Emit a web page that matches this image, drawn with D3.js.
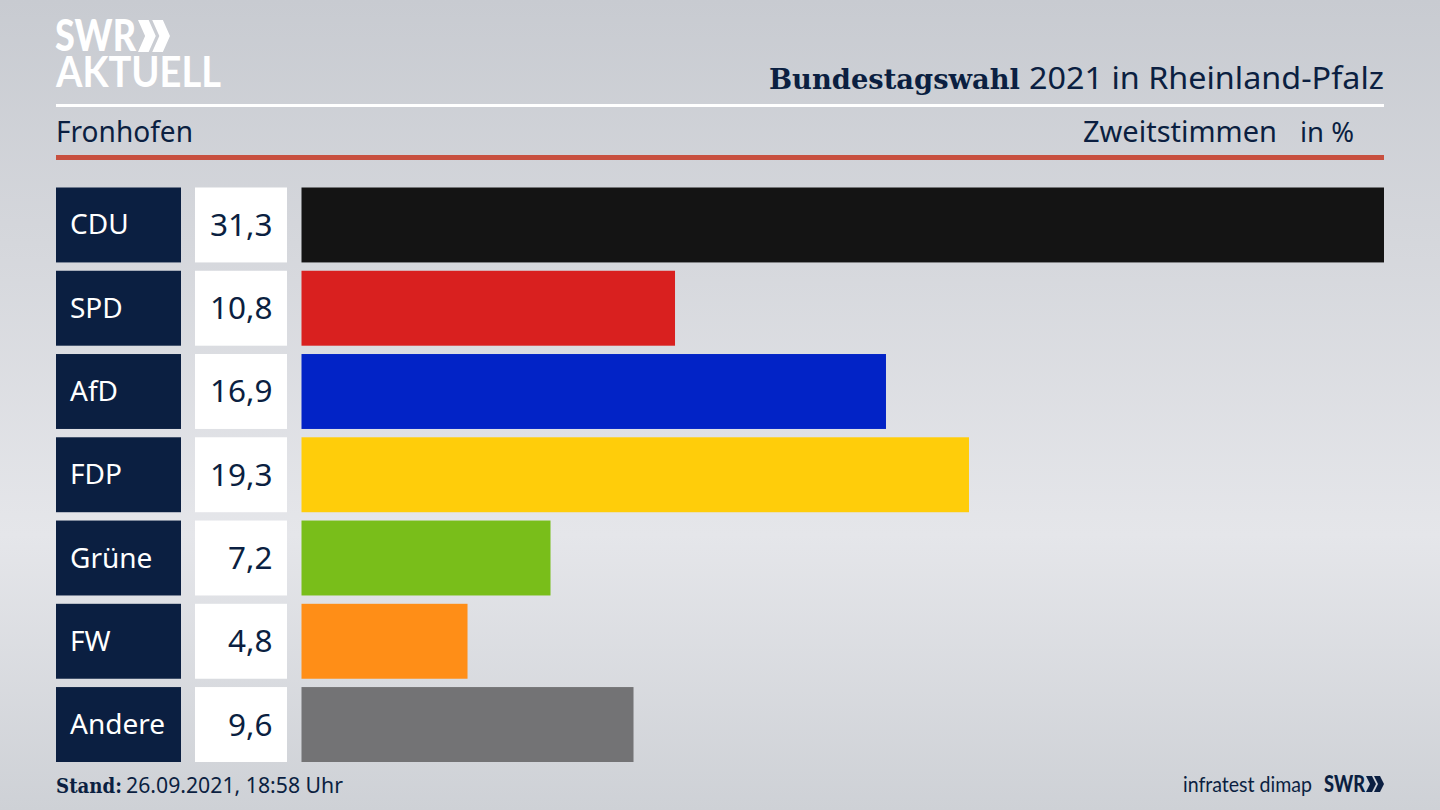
<!DOCTYPE html>
<html>
<head>
<meta charset="utf-8">
<script src="https://cdn.jsdelivr.net/npm/d3@7"></script>
<style>
html,body { margin:0; padding:0; background:#d5d7dc; overflow:hidden; }
svg { display:block; }
</style>
</head>
<body>
<div id="container"></div>
<script>
const parties = ["CDU","SPD","AfD","FDP","Grüne","FW","Andere"];
const values = [31.3,10.8,16.9,19.3,7.2,4.8,9.6];
const barColors = ["#141414","#d9201f","#0223c6","#ffcd0a","#79be1a","#ff8e17","#737375"];

const navy = "#0b1f41";
const width = 1440, height = 810;
const fmt = (v)=> v.toFixed(1).replace(".",",");

const svg = d3.select("#container").append("svg")
    .attr("width",width)
    .attr("height",height)
    .attr("font-family","'Noto Sans',sans-serif");

const defs = svg.append("defs");
const bg = defs.append("linearGradient")
    .attr("id","bg")
    .attr("x1",0).attr("y1",0).attr("x2",0).attr("y2",1);
bg.append("stop").attr("offset","0%").attr("stop-color","#c8cbd1");
bg.append("stop").attr("offset","30%").attr("stop-color","#d5d7dc");
bg.append("stop").attr("offset","66%").attr("stop-color","#e5e6ea");
bg.append("stop").attr("offset","100%").attr("stop-color","#ced1d6");
svg.append("rect").attr("width",width).attr("height",height).attr("fill","url(#bg)");

// rows
const y = d3.scaleBand().domain(parties).range([187.5,762]).paddingInner(0.1);
const x = d3.scaleLinear().domain([0,31.3]).range([301.5,1384]);

const row = svg.selectAll("g.row").data(parties).enter().append("g").attr("class","row");
row.append("rect")
    .attr("x",56).attr("y",(d)=>y(d))
    .attr("width",125).attr("height",y.bandwidth())
    .attr("fill",navy);
row.append("rect")
    .attr("x",195).attr("y",(d)=>y(d))
    .attr("width",92).attr("height",y.bandwidth())
    .attr("fill","#fff");
row.append("rect")
    .attr("x",x(0)).attr("y",(d)=>y(d))
    .attr("width",(d,i)=>x(values[i])-x(0)).attr("height",y.bandwidth())
    .attr("fill",(d,i)=>barColors[i]);
row.append("text")
    .attr("x",70).attr("y",(d)=>y(d)+y.bandwidth()/2+9.5)
    .attr("font-size",28).attr("fill","#fff")
    .text((d)=>d);
row.append("text")
    .attr("x",272.5).attr("y",(d)=>y(d)+y.bandwidth()/2+11)
    .attr("text-anchor","end")
    .attr("font-size",31.5).attr("fill",navy)
    .text((d,i)=>fmt(values[i]));

// header lines
svg.append("rect").attr("x",56).attr("y",104).attr("width",1328).attr("height",3).attr("fill","#fff");
svg.append("rect").attr("x",56).attr("y",155).attr("width",1328).attr("height",5).attr("fill","#c8503f");

// squeezes a text to the width it has in the reference
function fitted(px,py,size,len,str) {
    return svg.append("text")
        .attr("x",px).attr("y",py)
        .attr("font-size",size).attr("fill",navy)
        .attr("textLength",len).attr("lengthAdjust","spacingAndGlyphs")
        .text(str);
}

fitted(769,89,28,251,"Bundestagswahl")
    .attr("font-weight",700).attr("font-family","'DejaVu Serif',serif");
fitted(1029,89,31.5,355,"2021 in Rheinland-Pfalz");

fitted(56,142,29,137,"Fronhofen");
fitted(1083,142,28.5,194,"Zweitstimmen");
fitted(1300,142,28,54,"in %");

// footer
fitted(56,793,19.5,66,"Stand:")
    .attr("font-weight",700).attr("font-family","'DejaVu Serif',serif");
fitted(126,793,21.5,217,"26.09.2021, 18:58 Uhr");
fitted(1183,792,21,129,"infratest dimap").attr("font-family","Lato,sans-serif");

// chevrons of the SWR mark, drawn in a 0..1 box
function chevrons(parent,px,py,w,h,fill) {
    const line = d3.line();
    const one = [[0,0],[0.36,0],[0.6,0.5],[0.36,1],[0,1],[0.24,0.5]];
    [0,0.48].forEach((off)=>{
        parent.append("path")
            .attr("d",line(one.map((p)=>[px+(p[0]+off)*w/1.08,py+p[1]*h]))+"Z")
            .attr("fill",fill);
    });
}

// logo top left
svg.append("text").attr("x",55).attr("y",51)
    .attr("font-size",44).attr("font-weight",900).attr("font-family","Lato,sans-serif")
    .attr("textLength",81).attr("lengthAdjust","spacingAndGlyphs")
    .attr("fill","#fff").text("SWR");
chevrons(svg,138,20,32,32,"#fff");
svg.append("text").attr("x",56).attr("y",87)
    .attr("font-size",42).attr("font-weight",700).attr("font-family","Lato,sans-serif")
    .attr("textLength",165).attr("lengthAdjust","spacingAndGlyphs")
    .attr("fill","#fff").text("AKTUELL");

// logo bottom right
svg.append("text").attr("x",1324).attr("y",792)
    .attr("font-size",22).attr("font-weight",900).attr("font-family","Lato,sans-serif")
    .attr("textLength",41).attr("lengthAdjust","spacingAndGlyphs")
    .attr("fill",navy).text("SWR");
chevrons(svg,1366,776,18,16,navy);
</script>
</body>
</html>
